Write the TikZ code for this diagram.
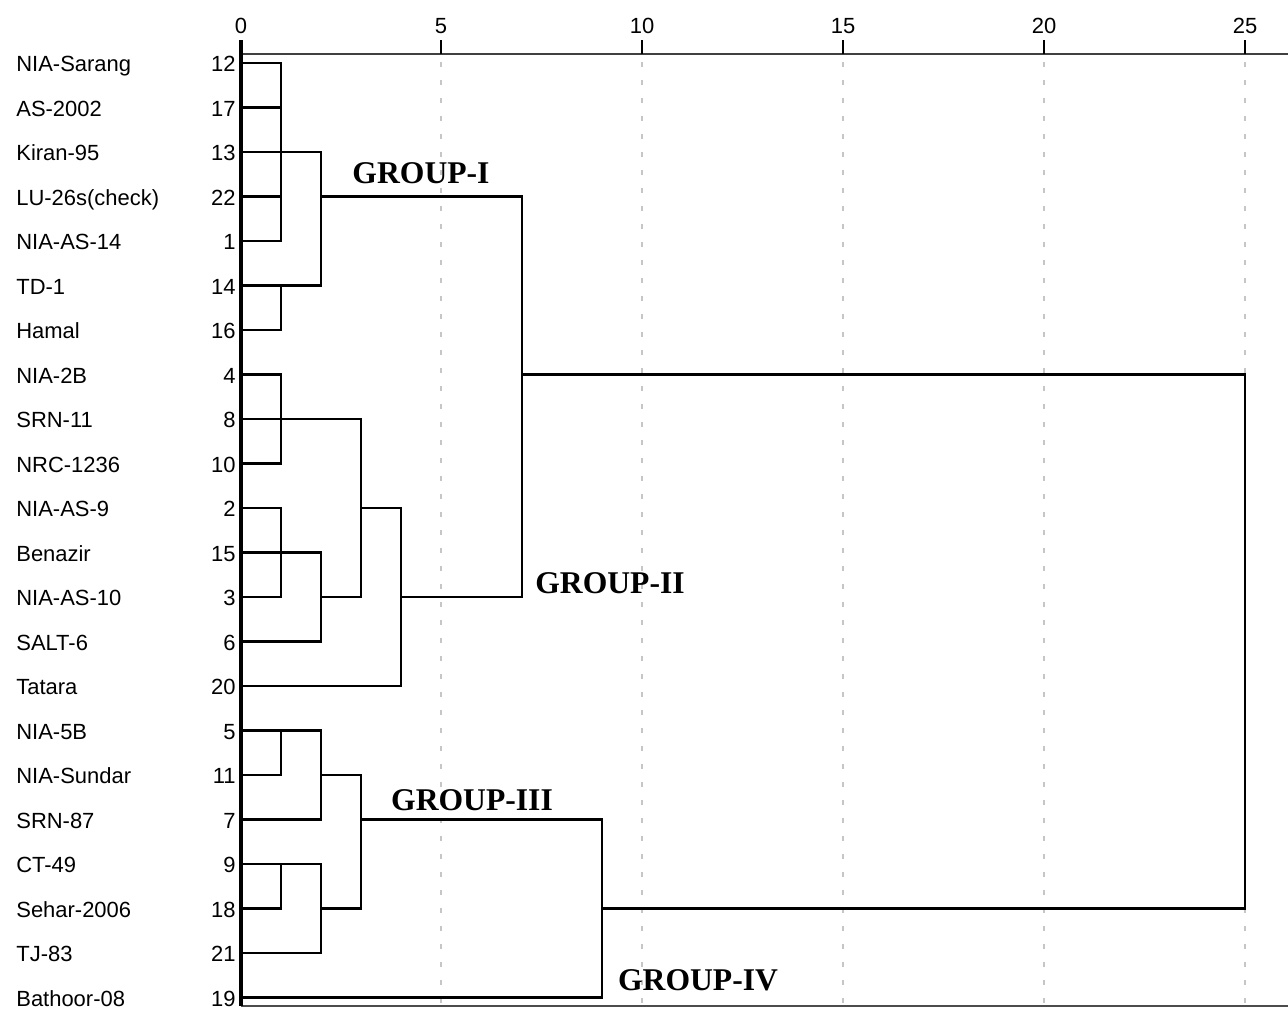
\documentclass[tikz,border=0pt]{standalone}
\usepackage{fontspec}
\setmainfont{Liberation Sans}
\newfontfamily\grpfont{Liberation Serif}
\begin{document}
\begin{tikzpicture}[x=0.02cm,y=-0.02cm,
  lbl/.style={inner sep=0pt,font=\fontsize{12.5}{14}\selectfont},
  grp/.style={inner sep=0pt,anchor=base,font=\grpfont\bfseries\fontsize{18}{20}\selectfont},
  den/.style={line width=1.4pt,line join=miter,line cap=rect},
  grid/.style={gray!45,line width=0.6pt,dash pattern=on 0.1cm off 0.26cm},
  axisline/.style={black!75,line width=1pt}]
\useasboundingbox (0,0) rectangle (1288,1009);
% level coordinates
\coordinate (X0) at (241,0);
\coordinate (X1) at (281,0);
\coordinate (X2) at (321,0);
\coordinate (X3) at (361,0);
\coordinate (X4) at (401,0);
\coordinate (X7) at (522,0);
\coordinate (X9) at (602,0);
\coordinate (X25) at (1245,0);
% grid
\foreach \v/\xx in {5/441,10/642,15/843,20/1044,25/1245}{
  \draw[grid] (\xx,62) -- (\xx,1005);
}
% axis
\draw[axisline] (241,54) -- (1288,54);
\draw[black!70,line width=1pt] (241,1006) -- (1288,1006);
\foreach \v/\xx in {0/241,5/441,10/642,15/843,20/1044,25/1245}{
  \draw[line width=1.4pt] (\xx,40) -- (\xx,54);
  \node[lbl,anchor=base] (t\v) at (\xx,33) {\v};
}
\draw[line width=1.8pt] (241,40) -- (241,1006);
% leaves
\foreach \nm/\num [count=\i from 0] in {NIA-Sarang/12,AS-2002/17,Kiran-95/13,{LU-26s(check)}/22,NIA-AS-14/1,TD-1/14,Hamal/16,NIA-2B/4,SRN-11/8,NRC-1236/10,NIA-AS-9/2,Benazir/15,NIA-AS-10/3,SALT-6/6,Tatara/20,NIA-5B/5,NIA-Sundar/11,SRN-87/7,CT-49/9,Sehar-2006/18,TJ-83/21,Bathoor-08/19}{
  \coordinate (l\i) at (241,{63+44.5*\i});
  \node[lbl,anchor=base west] (n\i) at (16,{71.5+44.5*\i}) {\nm};
  \node[lbl,anchor=base east] (k\i) at (236,{71.5+44.5*\i}) {\num};
}
% Group I
\draw[den] (l0) -- (l0-|X1) |- (l4);
\draw[den] (l1) -- (l1-|X1);
\draw[den] (l3) -- (l3-|X1);
\draw[den] (l2) -- (l2-|X2) |- (l5);
\draw[den] (l5-|X1) |- (l6);
\draw[den] (l3-|X2) -- (l3-|X7) |- (l12-|X4);
% Group II
\draw[den] (l7) -- (l7-|X1) |- (l9);
\draw[den] (l8) -- (l8-|X3) |- (l12-|X2);
\draw[den] (l10) -- (l10-|X1) |- (l12);
\draw[den] (l11) -- (l11-|X2) |- (l13);
\draw[den] (l10-|X3) -- (l10-|X4) |- (l14);
% Group III
\draw[den] (l15) -- (l15-|X2) |- (l17);
\draw[den] (l15-|X1) |- (l16);
\draw[den] (l16-|X2) -- (l16-|X3) |- (l19-|X2);
\draw[den] (l18) -- (l18-|X2) |- (l20);
\draw[den] (l18-|X1) |- (l19);
\draw[den] (l17-|X3) -- (l17-|X9) |- (l21);
% top join
\draw[den] (l7-|X7) -- (l7-|X25) |- (l19-|X9);
% group labels
\node[grp] (g1) at (421,183) {GROUP-I};
\node[grp] (g2) at (610,593) {GROUP-II};
\node[grp] (g3) at (472,810) {GROUP-III};
\node[grp] (g4) at (698,990) {GROUP-IV};
\end{tikzpicture}
\end{document}
